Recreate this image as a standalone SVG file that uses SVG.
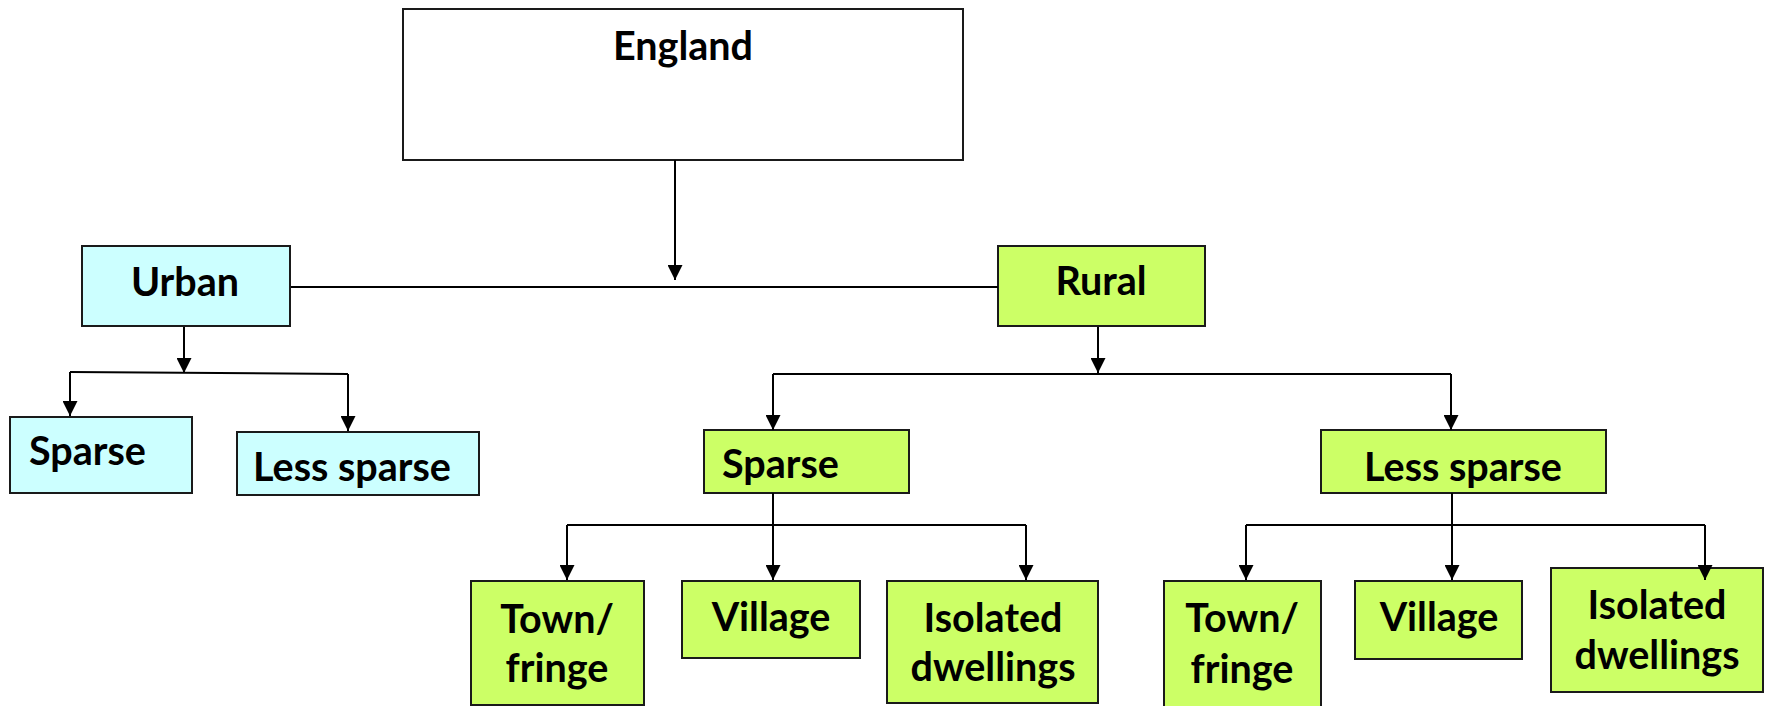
<svg xmlns="http://www.w3.org/2000/svg" width="1766" height="706" viewBox="0 0 1766 706">
<style>
.box{stroke:#1a1a1a;stroke-width:2}
.white{fill:#ffffff}
.cyan{fill:#ccffff}
.green{fill:#ccff66}
.t{font-family:Lato,"Liberation Sans",sans-serif;font-weight:bold;font-size:39.5px;fill:#000}
.c{text-anchor:middle}
.ln{fill:none;stroke:#000;stroke-width:2}
</style>
<defs>
<marker id="ah" viewBox="0 0 15 15" refX="15" refY="7.5" markerWidth="15" markerHeight="15" markerUnits="userSpaceOnUse" orient="auto">
<path d="M0,0 L15,7.5 L0,15 z" fill="#000"/>
</marker>
</defs>
<rect width="1766" height="706" fill="#ffffff"/>
<g id="england"><rect class="box white" x="403" y="9" width="560" height="151"/><text class="t c" x="683" y="60">England</text></g>
<g id="urban"><rect class="box cyan" x="82" y="246" width="208" height="80"/><text class="t c" x="185" y="296">Urban</text></g>
<g id="rural"><rect class="box green" x="998" y="246" width="207" height="80"/><text class="t c" x="1101" y="295">Rural</text></g>
<g id="urban-sparse"><rect class="box cyan" x="10" y="417" width="182" height="76"/><text class="t" x="29" y="465">Sparse</text></g>
<g id="urban-less-sparse"><rect class="box cyan" x="237" y="432" width="242" height="63"/><text class="t c" x="352" y="481">Less sparse</text></g>
<g id="rural-sparse"><rect class="box green" x="704" y="430" width="205" height="63"/><text class="t" x="722" y="478">Sparse</text></g>
<g id="rural-less-sparse"><rect class="box green" x="1321" y="430" width="285" height="63"/><text class="t c" x="1463" y="481">Less sparse</text></g>
<g id="s-town"><rect class="box green" x="471" y="581" width="173" height="124"/><text class="t c" x="557" y="633">Town/</text><text class="t c" x="557" y="682">fringe</text></g>
<g id="s-village"><rect class="box green" x="682" y="581" width="178" height="77"/><text class="t c" x="771" y="631">Village</text></g>
<g id="s-isolated"><rect class="box green" x="887" y="581" width="211" height="122"/><text class="t c" x="993" y="632">Isolated</text><text class="t c" x="993" y="681">dwellings</text></g>
<g id="l-town"><rect class="box green" x="1164" y="581" width="157" height="130"/><text class="t c" x="1242" y="632">Town/</text><text class="t c" x="1242" y="683">fringe</text></g>
<g id="l-village"><rect class="box green" x="1355" y="581" width="167" height="78"/><text class="t c" x="1439" y="631">Village</text></g>
<g id="l-isolated"><rect class="box green" x="1551" y="568" width="212" height="124"/><text class="t c" x="1657" y="619">Isolated</text><text class="t c" x="1657" y="669">dwellings</text></g>
<g id="connectors">
<path class="ln" d="M675,160 V280" marker-end="url(#ah)"/>
<path class="ln" d="M291,287 H998"/>
<path class="ln" d="M184,327 V373" marker-end="url(#ah)"/>
<path class="ln" d="M70,372 L348,374"/>
<path class="ln" d="M70,372 V416" marker-end="url(#ah)"/>
<path class="ln" d="M348,374 V431" marker-end="url(#ah)"/>
<path class="ln" d="M1098,327 V373" marker-end="url(#ah)"/>
<path class="ln" d="M773,374 H1451"/>
<path class="ln" d="M773,374 V430" marker-end="url(#ah)"/>
<path class="ln" d="M1451,374 V430" marker-end="url(#ah)"/>
<path class="ln" d="M773,493 V580" marker-end="url(#ah)"/>
<path class="ln" d="M567,525 H1026"/>
<path class="ln" d="M567,525 V580" marker-end="url(#ah)"/>
<path class="ln" d="M1026,525 V580" marker-end="url(#ah)"/>
<path class="ln" d="M1452,493 V580" marker-end="url(#ah)"/>
<path class="ln" d="M1246,525 H1705"/>
<path class="ln" d="M1246,525 V580" marker-end="url(#ah)"/>
<path class="ln" d="M1705,525 V580" marker-end="url(#ah)"/>
</g>
</svg>
